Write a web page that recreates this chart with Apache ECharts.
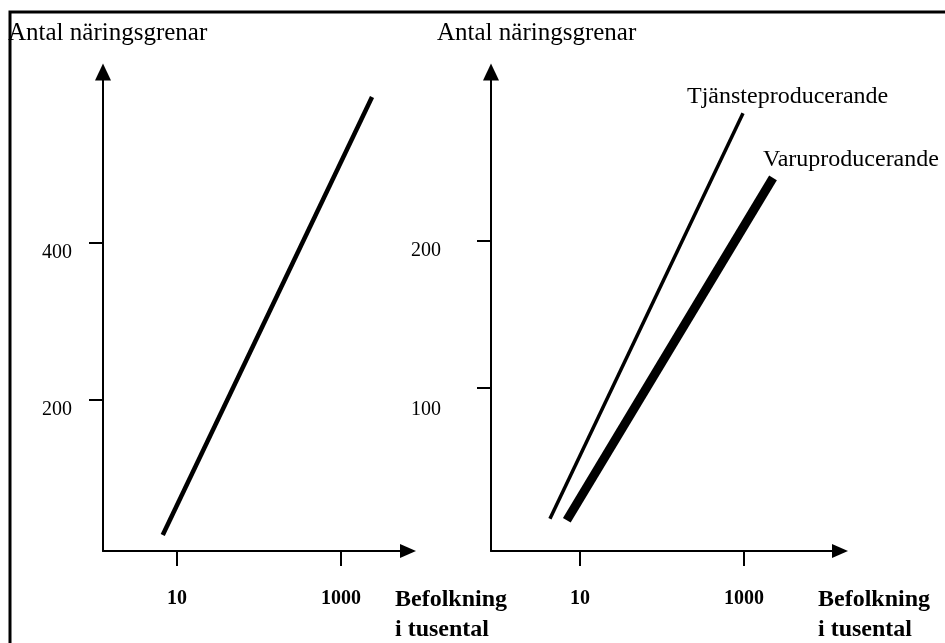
<!DOCTYPE html>
<html>
<head>
<meta charset="utf-8">
<script src="https://cdn.jsdelivr.net/npm/echarts@6/dist/echarts.min.js"></script>
<style>
  html, body { margin: 0; padding: 0; background: #fff; }
  #chart { width: 945px; height: 643px; }
</style>
</head>
<body>
<div id="chart"></div>
<script>
// population (thousands) on a log axis, number of industries on y
const leftLine = [[6.7, 28], [2390, 586]]
const serviceLine = [[4.3, 11], [973, 287]]
const goodsLine = [[6.9, 10], [2260, 243]]

const xTicks = [10, 1000]
const leftYTicks = [200, 400]
const rightYTicks = [100, 200]

const yName = "Antal näringsgrenar"
const xName = "Befolkning\ni tusental"
const serviceName = "Tjänsteproducerande"
const goodsName = "Varuproducerande"

const serif = "'Liberation Serif', 'Times New Roman', serif"
const ink = "#000"

const chart = echarts.init(document.getElementById("chart"))

function xAxis(gridIndex, min, max) {
  return {
    type: "log", logBase: 10, gridIndex, min, max,
    axisLine: {
      show: true, onZero: false, symbol: ["none", "triangle"], symbolSize: [14, 16],
      lineStyle: { color: ink, width: 2 },
    },
    axisTick: { show: true, customValues: xTicks, length: 15, lineStyle: { color: ink, width: 2 } },
    axisLabel: {
      customValues: xTicks, margin: 38, formatter: (v) => String(v),
      color: ink, fontFamily: serif, fontSize: 20, fontWeight: "bold",
    },
    splitLine: { show: false },
  }
}

// the lower label on the right panel sits well under its tick in the original
function yAxis(gridIndex, min, max, ticks, margin, lowPad) {
  return {
    type: "value", gridIndex, min, max,
    axisLine: {
      show: true, onZero: false, symbol: ["none", "triangle"], symbolSize: [16, 17],
      lineStyle: { color: ink, width: 2 },
    },
    axisTick: { show: true, customValues: ticks, length: 14, lineStyle: { color: ink, width: 2 } },
    axisLabel: {
      customValues: ticks, margin, verticalAlign: "top",
      formatter: (v) => (v === ticks[0] ? "{low|" + v + "}" : "{n|" + v + "}"),
      rich: {
        n: { fontFamily: serif, fontSize: 20, color: ink },
        low: { fontFamily: serif, fontSize: 20, color: ink, padding: [lowPad, 0, 0, 0] },
      },
    },
    splitLine: { show: false },
  }
}

const textStyle = { fontFamily: serif, fontSize: 24, fontWeight: "normal", color: ink }
const nameStyle = { fontFamily: serif, fontSize: 25, fontWeight: "normal", color: ink }
const boldStyle = { fontFamily: serif, fontSize: 24, fontWeight: "bold", color: ink, lineHeight: 30 }

chart.setOption({
  animation: false,
  title: [
    { text: yName, left: 8, top: 21, padding: 0, textStyle: nameStyle },
    { text: yName, left: 437, top: 21, padding: 0, textStyle: nameStyle },
    { text: xName, left: 395, top: 585, padding: 0, textStyle: boldStyle },
    { text: xName, left: 818, top: 585, padding: 0, textStyle: boldStyle },
  ],
  graphic: [{
    type: "rect", silent: true,
    shape: { x: 10, y: 12, width: 1000, height: 1000 },
    style: { fill: "none", stroke: ink, lineWidth: 3 },
  }],
  grid: [
    { left: 103, top: 72, width: 305, height: 479 },
    { left: 491, top: 72, width: 349, height: 479 },
  ],
  xAxis: [xAxis(0, 1.252, 6561), xAxis(1, 0.821, 14830)],
  yAxis: [
    yAxis(0, 7.6, 617.8, leftYTicks, 31, 0),
    yAxis(1, -10.9, 315, rightYTicks, 50, 12),
  ],
  series: [
    {
      type: "line", xAxisIndex: 0, yAxisIndex: 0, data: leftLine,
      showSymbol: false, lineStyle: { color: ink, width: 4.5 },
    },
    {
      name: serviceName, type: "line", xAxisIndex: 1, yAxisIndex: 1, data: serviceLine,
      showSymbol: false, lineStyle: { color: ink, width: 3.5 },
      endLabel: { show: true, formatter: "{a}", offset: [-64, -16], ...textStyle },
    },
    {
      name: goodsName, type: "line", xAxisIndex: 1, yAxisIndex: 1, data: goodsLine,
      showSymbol: false, lineStyle: { color: ink, width: 9 },
      endLabel: { show: true, formatter: "{a}", offset: [-18, -18], ...textStyle },
    },
  ],
})
</script>
</body>
</html>
